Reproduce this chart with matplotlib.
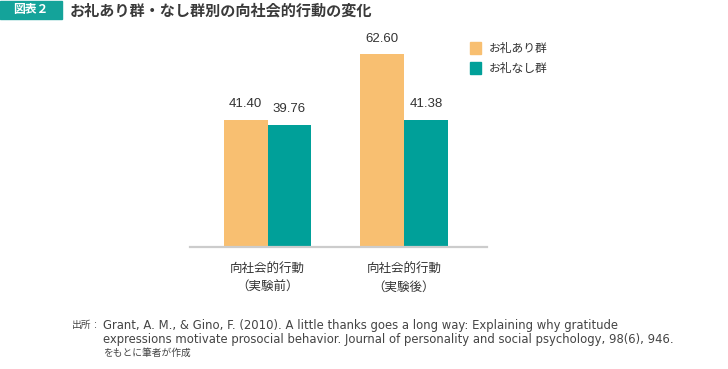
import matplotlib
matplotlib.use('Agg')
import matplotlib.pyplot as plt
from matplotlib.patches import Rectangle
import numpy as np

plt.rcParams['font.family'] = ['Noto Sans CJK JP', 'DejaVu Sans']
latin = ['Liberation Sans', 'Noto Sans CJK JP']

categories = ['向社会的行動\n（実験前）', '向社会的行動\n（実験後）']
series_names = ['お礼あり群', 'お礼なし群']
with_thanks = [41.40, 62.60]
without_thanks = [39.76, 41.38]
colors = ['#F8BF71', '#00A099']

W, H = 728, 369
fig = plt.figure(figsize=(W / 100, H / 100), dpi=100)


def px(x0, y0, x1, y1):
    # pixel box (top-left origin) -> figure fraction rect
    return [x0 / W, 1 - y1 / H, (x1 - x0) / W, (y1 - y0) / H]


ax = fig.add_axes(px(190, 40, 487, 247))
x = np.arange(len(categories))
bw = 0.322
b1 = ax.bar(x - bw / 2, with_thanks, bw, color=colors[0], label=series_names[0])
b2 = ax.bar(x + bw / 2, without_thanks, bw, color=colors[1], label=series_names[1])
ax.set_xlim(-0.568, 1.608)
ax.set_ylim(0, 67.3)

for bars, vals in [(b1, with_thanks), (b2, without_thanks)]:
    for b, v in zip(bars, vals):
        ax.annotate(f'{v:.2f}', (b.get_x() + b.get_width() / 2, v),
                    xytext=(0, 7), textcoords='offset points',
                    ha='center', va='bottom', fontsize=9.5, color='#333333',
                    family=latin)

for s in ['top', 'right', 'left']:
    ax.spines[s].set_visible(False)
ax.spines['bottom'].set_color('#cccccc')
ax.spines['bottom'].set_linewidth(1.6)
ax.set_yticks([])
ax.set_xticks(x)
ax.set_xticklabels(categories, fontsize=9, color='#333333', linespacing=1.45)
ax.tick_params(axis='x', length=0, pad=11.5)

# legend drawn by hand as squares + text
for i, name in enumerate(series_names):
    yc = 48 + i * 20
    fig.patches.append(Rectangle((470 / W, 1 - (yc + 5.5) / H), 11 / W, 11 / H,
                                 transform=fig.transFigure, color=colors[i]))
    fig.text(489 / W, 1 - yc / H, name, fontsize=8.5, color='#333333', va='center')

# header
fig.patches.append(Rectangle((0, 1 - 19 / H), 62 / W, 18 / H,
                             transform=fig.transFigure, color='#14A39A'))
fig.text(31 / W, 1 - 10 / H, '図表２', fontsize=8.5, color='white',
         ha='center', va='center', fontweight='bold')
fig.text(70 / W, 1 - 10.5 / H, 'お礼あり群・なし群別の向社会的行動の変化',
         fontsize=10.9, color='#3a3a3a', va='center', fontweight='bold')

# source note
note_c = '#444444'
note_font = ['DejaVu Sans', 'Noto Sans CJK JP']
fs_note = 8.35
fig.text(72 / W, 1 - 325 / H, '出所', fontsize=7, color=note_c, va='center')
fig.text(94 / W, 1 - 325 / H, ':', fontsize=8, color=note_c, va='center', family=latin)
fig.text(103 / W, 1 - 325 / H,
         'Grant, A. M., & Gino, F. (2010). A little thanks goes a long way: Explaining why gratitude',
         fontsize=fs_note, color=note_c, va='center', family=note_font)
fig.text(103 / W, 1 - 339 / H,
         'expressions motivate prosocial behavior. Journal of personality and social psychology, 98(6), 946.',
         fontsize=fs_note, color=note_c, va='center', family=note_font)
fig.text(103 / W, 1 - 353 / H, 'をもとに筆者が作成', fontsize=7, color=note_c, va='center')

fig.savefig('out.png', dpi=100)
